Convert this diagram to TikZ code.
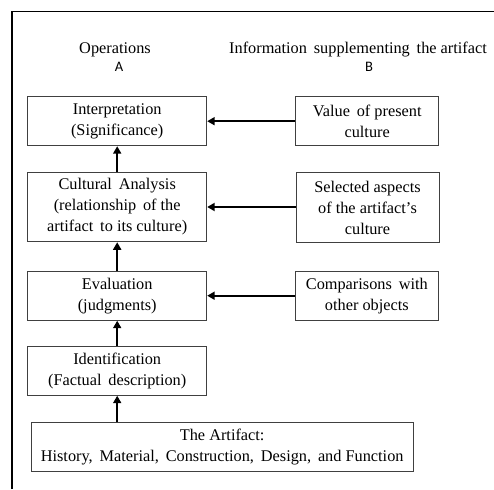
\documentclass[tikz,border=0pt]{standalone}
\usepackage{fontspec}
\setmainfont{Liberation Serif}
\newfontfamily\calfont{Carlito}
\usetikzlibrary{arrows.meta}
\newcommand\wsp{\hspace{0.42em}}
\begin{document}
\begin{tikzpicture}[x=1pt,y=-1pt,
  box/.style={draw=black!75,line width=1pt,inner sep=0pt,align=center,
    font=\fontsize{16.3}{21}\selectfont},
  lbox/.style={box,minimum width=179pt},
  rbox/.style={box,minimum width=143pt},
  twoline/.style={minimum height=49pt},
  threeline/.style={minimum height=69.5pt},
  head/.style={inner sep=0pt,font=\fontsize{16.3}{18}\selectfont},
  letter/.style={inner sep=0pt,font=\calfont\fontsize{14.5}{16}\selectfont},
  arr/.style={line width=2pt,-{Triangle[length=7.5pt,width=8pt]}}]
\useasboundingbox (0,0) rectangle (494,489);
\draw[line width=1.3pt] (12,489) -- (12,11.7) -- (494,11.7);
% headers
\node[head,anchor=base] (hA) at (115,53.3) {Operations};
\node[letter,anchor=base] (lA) at (119,71.7) {A};
\node[head,anchor=base] (hB) at (358,53.3) {Information\wsp supplementing\wsp the artifact};
\node[letter,anchor=base] (lB) at (369,71.7) {B};
% left column
\node[lbox,twoline] (interp) at (117.2,121.2) {Interpretation\\(Significance)};
\node[lbox,threeline] (cult) at (117.2,207) {Cultural\wsp Analysis\\(relationship\wsp of the\\artifact\wsp to its culture)};
\node[lbox,twoline] (eval) at (117.2,295.7) {Evaluation\\(judgments)};
\node[lbox,twoline] (ident) at (117.2,370.7) {Identification\\(Factual\wsp description)};
\node[box,minimum width=382.3pt,minimum height=49pt] (art) at (222.2,447.2) {The Artifact:\\History,\wsp Material,\wsp Construction,\wsp Design,\wsp and Function};
% right column
\node[rbox,twoline] (value) at (367.2,121.2) {Value\wsp of present\\culture};
\node[rbox,threeline] (sel) at (367.5,207.5) {Selected aspects\\of the artifact’s\\culture};
\node[rbox,twoline] (comp) at (366.8,295.7) {Comparisons\wsp with\\other objects};
% connectors
\draw[arr] (value.west) -- (interp.east);
\draw[arr] (sel.west |- cult.east) -- (cult.east);
\draw[arr] (comp.west) -- (eval.east);
\draw[arr] (cult.north) -- (interp.south);
\draw[arr] (eval.north) -- (cult.south);
\draw[arr] (ident.north) -- (eval.south);
\draw[arr] (art.north -| ident.south) -- (ident.south);
\end{tikzpicture}
\end{document}
